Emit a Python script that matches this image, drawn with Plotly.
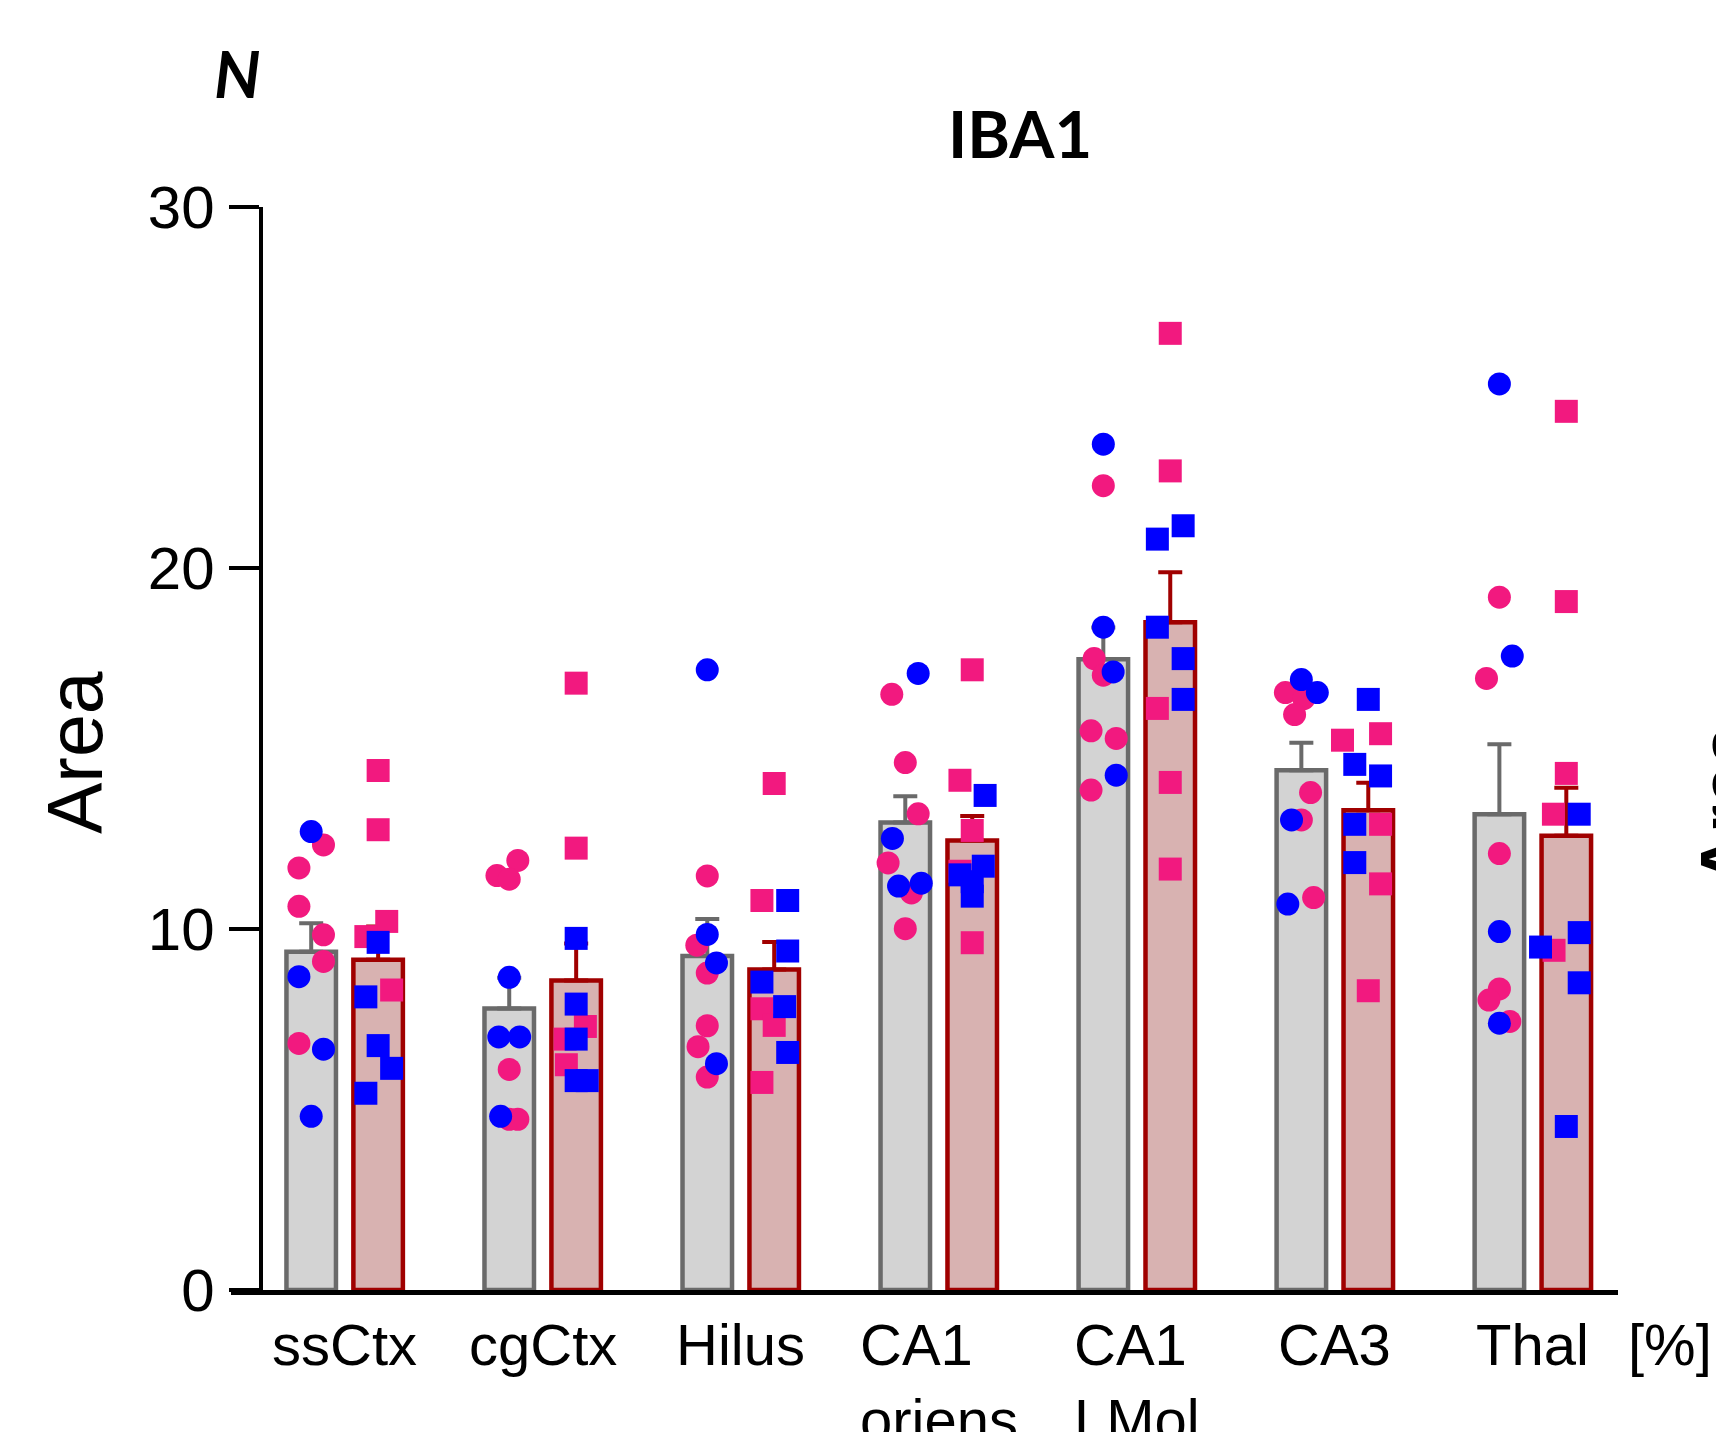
import plotly.graph_objects as go

# ---------------- data ----------------
regions = ["ssCtx", "cgCtx", "Hilus", "CA1<br>oriens", "CA1<br>LMol", "CA3", "Thal"]
y_ticks = [0, 10, 20, 30]

ctrl_mean = [9.37, 7.80, 9.25, 12.95, 17.47, 14.40, 13.18]
ctrl_sem = [0.79, 0.85, 1.03, 0.73, 0.88, 0.76, 1.94]
tg_mean = [9.15, 8.57, 8.88, 12.45, 18.50, 13.29, 12.58]
tg_sem = [0.92, 1.03, 0.76, 0.68, 1.38, 0.76, 1.33]

# individual animals (female = pink, male = blue)
ctrl_f = [
    [12.33, 11.69, 10.63, 9.84, 9.10, 6.83],
    [11.90, 11.48, 11.38, 6.11, 4.73, 4.73],
    [11.47, 9.55, 8.78, 7.32, 6.74, 5.90],
    [16.50, 14.61, 13.19, 11.83, 11.00, 10.01],
    [22.28, 17.49, 17.03, 15.49, 15.28, 13.85],
    [16.55, 16.38, 15.94, 13.78, 13.02, 10.87],
    [19.19, 16.94, 12.09, 8.34, 8.03, 7.44],
]
ctrl_m = [
    [12.70, 8.68, 6.67, 4.81],
    [8.66, 7.01, 7.01, 4.81],
    [17.18, 9.85, 9.06, 6.27],
    [17.08, 12.51, 11.19, 11.27],
    [23.43, 18.36, 17.12, 14.26],
    [16.91, 16.55, 13.02, 10.69],
    [25.10, 17.56, 9.93, 7.39],
]
tg_f = [
    [14.39, 12.75, 10.21, 9.79, 8.31],
    [16.81, 12.24, 7.30, 6.95, 6.24],
    [14.03, 10.79, 7.79, 7.33, 5.75],
    [17.18, 14.12, 12.73, 11.60, 9.62],
    [26.50, 22.69, 16.11, 14.06, 11.66],
    [15.23, 15.41, 12.90, 11.25, 8.29],
    [24.34, 19.07, 14.31, 13.18, 9.41],
]
tg_m = [
    [9.63, 8.12, 6.77, 6.14, 5.45],
    [9.74, 7.92, 6.95, 5.80, 5.80],
    [10.79, 9.39, 8.53, 7.85, 6.58],
    [13.70, 11.74, 11.50, 11.31, 10.91],
    [21.17, 20.80, 18.36, 17.49, 16.36],
    [16.36, 14.56, 14.24, 12.90, 11.84],
    [13.18, 9.90, 9.50, 8.51, 4.53],
]

# horizontal scatter of dots (layout only, in jitter steps)
ctrl_f_jit = [
    [1, -1, -1, 1, 1, -1],
    [0.7, -1, 0, 0, 0, 0.7],
    [0, -0.85, 0, 0, -0.75, 0],
    [-1.1, 0, 1.05, -1.4, 0.5, 0],
    [0, -0.75, 0, -1, 1.05, -1],
    [-1.3, 0.2, -0.55, 0.75, 0, 1],
    [0, -1.05, 0, 0, -0.85, 0.85],
]
ctrl_m_jit = [
    [0, -1, 1, 0],
    [0, -0.85, 0.85, -0.7],
    [0, 0, 0.75, 0.75],
    [1.05, -1.05, -0.55, 1.3],
    [0, 0, 0.8, 1.05],
    [0, 1.3, -0.8, -1.1],
    [0, 1.05, 0, 0],
]
tg_f_jit = [
    [0, 0, 0.7, -1, 1.1],
    [0, 0, 0.75, -0.9, -0.8],
    [0, -1, -1, 0, -1],
    [0, -1, 0, -1, 0],
    [0, 0, -1.05, 0, 0],
    [-2.1, 1, 1, 1, 0],
    [0, 0, 0, -1.05, -1],
]
tg_m_jit = [
    [0, -1, 0, 1.1, -1],
    [0, 0, 0, 0, 0.9],
    [1.1, 1.1, -1, 0.85, 1.1],
    [1.05, 0.9, -1, 0, 0],
    [1.05, -1.05, -1.05, 1.05, 1.05],
    [0, -1.1, 1, -1.1, -1.1],
    [1.05, 1.05, -2.1, 1.05, 0],
]

# ---------------- styling / layout ----------------
BODY = 8                      # default page margin around the plot div
W, H = 1724 - BODY, 1432 - BODY
L, T = 231 - BODY, 207 - BODY
PW, PH = 1387, 1083
R, B = W - L - PW, H - T - PH
GRAY_FILL, GRAY_LINE = "#D3D3D3", "#6A6A6A"
RED_FILL, RED_LINE = "#D8B2B1", "#A00000"
PINK, BLUE = "#F2197F", "#0000FF"
OFF = 0.169
BW = 0.25
JIT = 0.062
X0, X1 = -0.574, 6.430
ARIAL = "Liberation Sans, Arial, sans-serif"
TITLEFONT = "Lato, Open Sans, sans-serif"


def px(x):  # page pixel -> paper fraction
    return (x - BODY - L) / PW


def py(y):
    return (T + PH - (y - BODY)) / PH


idx = list(range(len(regions)))

fig = go.Figure()

fig.add_trace(go.Bar(
    x=idx, y=ctrl_mean, offset=-OFF - BW / 2, width=BW,
    marker=dict(color=GRAY_FILL, line=dict(color=GRAY_LINE, width=4.5)),
    error_y=dict(type="data", array=ctrl_sem, arrayminus=[0] * len(idx), symmetric=False,
                 color=GRAY_LINE, thickness=4, width=12),
    showlegend=False))
fig.add_trace(go.Bar(
    x=idx, y=tg_mean, offset=OFF - BW / 2, width=BW,
    marker=dict(color=RED_FILL, line=dict(color=RED_LINE, width=4.5)),
    error_y=dict(type="data", array=tg_sem, arrayminus=[0] * len(idx), symmetric=False,
                 color=RED_LINE, thickness=4, width=12),
    showlegend=False))


def dots(vals, jits, shift, color, symbol):
    xs, ys = [], []
    for i, (vs, js) in enumerate(zip(vals, jits)):
        for v, j in zip(vs, js):
            xs.append(i + shift + j * JIT)
            ys.append(v)
    fig.add_trace(go.Scatter(x=xs, y=ys, mode="markers",
                             marker=dict(color=color, size=23, symbol=symbol, line=dict(width=0)),
                             showlegend=False, cliponaxis=False))


dots(ctrl_f, ctrl_f_jit, -OFF, PINK, "circle")
dots(ctrl_m, ctrl_m_jit, -OFF, BLUE, "circle")
dots(tg_f, tg_f_jit, OFF, PINK, "square")
dots(tg_m, tg_m_jit, OFF, BLUE, "square")

ann = []
for i, lab in enumerate(regions):
    ann.append(dict(x=i, xref="x", y=py(1310), yref="paper", text=lab, showarrow=False,
                    xanchor="center", yanchor="top", align="left",
                    font=dict(family=ARIAL, size=58, color="black")))
ann.append(dict(x=px(1670), xref="paper", y=py(1310), yref="paper", text="[%]", showarrow=False,
                xanchor="center", yanchor="top", font=dict(family=ARIAL, size=58, color="black")))
ann.append(dict(x=px(75), xref="paper", y=py(753), yref="paper", text="Area", showarrow=False,
                textangle=-90, xanchor="center", yanchor="middle",
                font=dict(family=ARIAL, size=77, color="black")))
ann.append(dict(x=px(1684), xref="paper", y=py(805), yref="paper", text="<b>Area</b>", showarrow=False,
                textangle=-90, xanchor="left", yanchor="middle",
                font=dict(family=ARIAL, size=72, color="black")))
ann.append(dict(x=px(1020), xref="paper", y=py(133), yref="paper", text="<b>IBA1</b>", showarrow=False,
                xanchor="center", yanchor="middle", font=dict(family=TITLEFONT, size=65, color="black")))
ann.append(dict(x=px(237), xref="paper", y=py(73), yref="paper", text="<b><i>N</i></b>", showarrow=False,
                xanchor="center", yanchor="middle", font=dict(family=TITLEFONT, size=65, color="black")))

fig.update_layout(
    width=W, height=H,
    margin=dict(l=L, r=R, t=T, b=B, pad=0),
    paper_bgcolor="white", plot_bgcolor="white",
    barmode="overlay",
    showlegend=False,
    annotations=ann,
    xaxis=dict(range=[X0, X1], showgrid=False, zeroline=False, showticklabels=False, ticks="",
               showline=True, linecolor="black", linewidth=4.5, fixedrange=True),
    yaxis=dict(range=[0, 30], anchor="free", position=px(260.6), showgrid=False, zeroline=False,
               showline=True, linecolor="black", linewidth=4, ticks="outside", ticklen=30,
               tickwidth=4, tickcolor="black", tickvals=y_ticks, ticklabelstandoff=2,
               tickfont=dict(family=ARIAL, size=60, color="black"), fixedrange=True),
)

fig.write_html("out.html", config={"displayModeBar": False})
